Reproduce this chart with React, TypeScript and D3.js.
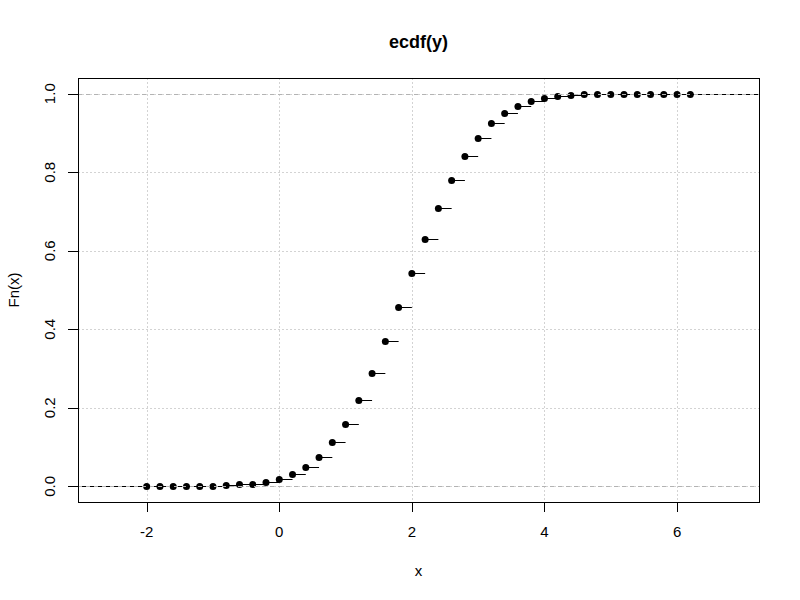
import React from "react";
import * as d3 from "d3";

const xKnots = [-2, -1.8, -1.6, -1.4, -1.2, -1, -0.8, -0.6, -0.4, -0.2, 0, 0.2, 0.4, 0.6, 0.8, 1, 1.2, 1.4, 1.6, 1.8, 2, 2.2, 2.4, 2.6, 2.8, 3, 3.2, 3.4, 3.6, 3.8, 4, 4.2, 4.4, 4.6, 4.8, 5, 5.2, 5.4, 5.6, 5.8, 6, 6.2];
const fnValues = [0.0003, 0.0005, 0.0008, 0.0011, 0.0015, 0.002, 0.004, 0.005, 0.007, 0.01, 0.018, 0.031, 0.048, 0.074, 0.112, 0.158, 0.219, 0.288, 0.37, 0.456, 0.543, 0.63, 0.709, 0.78, 0.841, 0.887, 0.926, 0.951, 0.969, 0.982, 0.99, 0.995, 0.997, 0.999, 0.9995, 0.9998, 0.9999, 0.99995, 1, 1, 1, 1];
const xTicks = [-2, 0, 2, 4, 6];
const yTicks = [0, 0.2, 0.4, 0.6, 0.8, 1.0];
const xDomain = [-3.036, 7.236];
const yDomain = [-0.04, 1.04];

const L = 78, R = 759, T = 78, B = 502;
const FONT = "'Liberation Sans', Arial, sans-serif";

export default function App() {
  const x = d3.scaleLinear().domain(xDomain).range([L, R]);
  const y = d3.scaleLinear().domain(yDomain).range([B, T]);
  const n = xKnots.length;
  return (
    <svg width={800} height={600} style={{ position: "absolute", left: 0, top: 0, background: "#fff" }} fontFamily={FONT}>
      <rect x={0} y={0} width={800} height={600} fill="#fff" />
      {/* grid */}
      <g stroke="#d3d3d3" strokeWidth={1} strokeDasharray="2 2">
        {xTicks.map((t) => (
          <line key={"gx" + t} x1={Math.round(x(t)) + 0.5} x2={Math.round(x(t)) + 0.5} y1={T} y2={B} />
        ))}
        {yTicks.map((t) => (
          <line key={"gy" + t} y1={Math.round(y(t)) + 0.5} y2={Math.round(y(t)) + 0.5} x1={L} x2={R} />
        ))}
      </g>
      {/* step segments */}
      <g stroke="#000" strokeWidth={1}>
        <line x1={L} x2={x(xKnots[0])} y1={Math.round(y(0)) + 0.5} y2={Math.round(y(0)) + 0.5} />
        {xKnots.map((k, i) => (
          <line key={"s" + i} x1={x(k)} x2={i < n - 1 ? x(xKnots[i + 1]) : R}
            y1={Math.round(y(fnValues[i])) + 0.5} y2={Math.round(y(fnValues[i])) + 0.5} />
        ))}
      </g>
      {/* points */}
      <g fill="#000">
        {xKnots.map((k, i) => (
          <circle key={"p" + i} cx={x(k)} cy={Math.round(y(fnValues[i])) + 0.5} r={3.5} />
        ))}
      </g>
      {/* h lines at 0 and 1 */}
      <g stroke="#b3b3b3" strokeWidth={1} strokeDasharray="4 4">
        {[0, 1].map((h) => (
          <line key={"h" + h} x1={L} x2={R} y1={Math.round(y(h)) + 0.5} y2={Math.round(y(h)) + 0.5} />
        ))}
      </g>
      {/* box */}
      <rect x={L + 0.5} y={T + 0.5} width={R - L} height={B - T} fill="none" stroke="#000" strokeWidth={1} />
      {/* x axis */}
      <g>
        {xTicks.map((t) => (
          <g key={"xt" + t}>
            <line x1={Math.round(x(t)) + 0.5} x2={Math.round(x(t)) + 0.5} y1={B} y2={B + 10} stroke="#000" />
            <text x={x(t)} y={537} textAnchor="middle" fontSize={15} fill="#000">{t}</text>
          </g>
        ))}
      </g>
      {/* y axis */}
      <g>
        {yTicks.map((t) => (
          <g key={"yt" + t}>
            <line x1={L - 10} x2={L} y1={Math.round(y(t)) + 0.5} y2={Math.round(y(t)) + 0.5} stroke="#000" />
            <text transform={`translate(55,${y(t)}) rotate(-90)`} textAnchor="middle" fontSize={15} fill="#000">{t.toFixed(1)}</text>
          </g>
        ))}
      </g>
      <text x={(L + R) / 2} y={48} textAnchor="middle" fontSize={18} fontWeight="bold" fill="#000">ecdf(y)</text>
      <text x={(L + R) / 2} y={576} textAnchor="middle" fontSize={15} fill="#000">x</text>
      <text transform={`translate(19,${(T + B) / 2}) rotate(-90)`} textAnchor="middle" fontSize={15} fill="#000">Fn(x)</text>
    </svg>
  );
}
